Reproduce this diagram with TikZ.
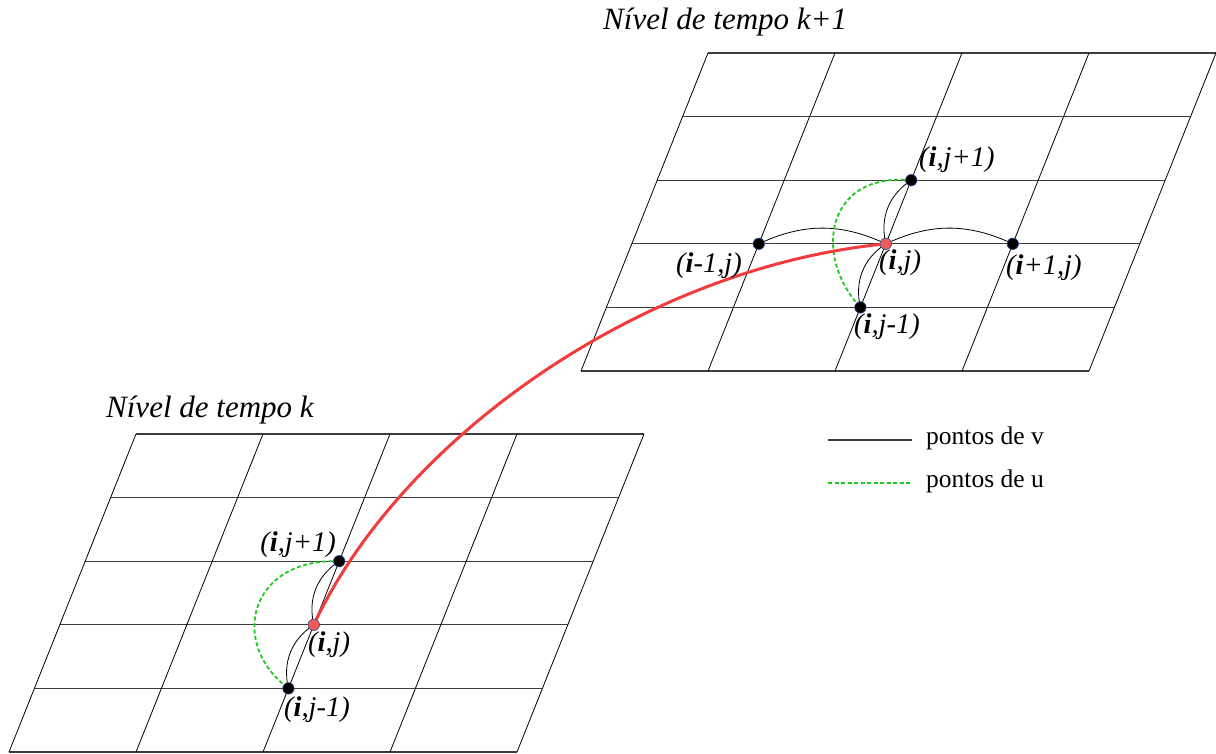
\documentclass[tikz,border=0pt]{standalone}
\usepackage{fontspec}
\setmainfont{Liberation Serif}
\usetikzlibrary{calc}
\definecolor{gridc}{RGB}{60,60,60}
\definecolor{redc}{RGB}{240,60,60}
\definecolor{redfill}{RGB}{240,90,90}
\definecolor{greenc}{RGB}{30,200,30}
\definecolor{dotedge}{RGB}{50,80,150}
\tikzset{
  gridline/.style={draw=gridc, line width=1.1pt},
  vline/.style={draw=black, line width=0.8pt},
  uline/.style={draw=greenc, line width=1.8pt, dash pattern=on 4pt off 2.5pt},
  redline/.style={draw=redc, line width=3pt},
  dotnode/.style={circle, fill=black, draw=dotedge, line width=0.6pt, inner sep=0pt, minimum size=11.5pt},
  reddot/.style={circle, fill=redfill, draw=dotedge, line width=0.6pt, inner sep=0pt, minimum size=11.5pt},
  lab/.style={font=\fontsize{28.5}{32}\selectfont\itshape, inner sep=0pt, anchor=west},
  title/.style={font=\fontsize{31}{36}\selectfont\itshape, inner sep=0pt, anchor=west},
  legtext/.style={font=\fontsize{25.5}{30}\selectfont, inner sep=0pt, anchor=west}
}
\begin{document}
\begin{tikzpicture}[x=1pt,y=-1pt]
\path[use as bounding box] (0,0) rectangle (1216,753);
% lower grid
\begin{scope}[shift={(9,752)}]
  \foreach \r in {0,...,5} \draw[gridline] (\r*25.4,-\r*63.6) -- ++(508,0);
  \foreach \c in {0,...,4} \draw[vline] (\c*127,0) -- ++(127,-318);
\end{scope}
% upper grid
\begin{scope}[shift={(581,371)}]
  \foreach \r in {0,...,5} \draw[gridline] (\r*25.4,-\r*63.6) -- ++(508,0);
  \foreach \c in {0,...,4} \draw[vline] (\c*127,0) -- ++(127,-318);
\end{scope}
% titles
\node[title] (t1) at (603,22) {Nível de tempo k+1};
\node[title] (t0) at (106,410) {Nível de tempo k};
% points, lower
\coordinate (Lc) at (313.8,624.8);
\coordinate (Lu) at (339.2,561.2);
\coordinate (Ld) at (288.4,688.4);
% points, upper
\coordinate (Uc) at (885.8,243.8);
\coordinate (Uu) at (911.2,180.2);
\coordinate (Ud) at (860.4,307.4);
\coordinate (Ul) at (758.8,243.8);
\coordinate (Ur) at (1012.8,243.8);
% black v curves
\draw[vline] (Ul) to[bend left=25] (Uc);
\draw[vline] (Uc) to[bend left=25] (Ur);
\draw[vline] (Uc) to[bend left=35] (Uu);
\draw[vline] (Ud) to[bend left=35] (Uc);
\draw[vline] (Lc) to[bend left=35] (Lu);
\draw[vline] (Ld) to[bend left=35] (Lc);
% green u curves
\draw[uline] (Uu) .. controls ($(Uu)+(-85,-8)$) and ($(Ud)+(-48,-52)$) .. (Ud);
\draw[uline] (Lu) .. controls ($(Lu)+(-90,-3)$) and ($(Ld)+(-60,-45)$) .. (Ld);
% red
\draw[redline] (Uc) .. controls (640,268) and (400,440) .. (Lc);
% dots
\node[dotnode] (nUu) at (Uu) {};
\node[dotnode] (nUd) at (Ud) {};
\node[dotnode] (nUl) at (Ul) {};
\node[dotnode] (nUr) at (Ur) {};
\node[reddot] (nUc) at (Uc) {};
\node[dotnode] (nLu) at (Lu) {};
\node[dotnode] (nLd) at (Ld) {};
\node[reddot] (nLc) at (Lc) {};
% labels upper
\node[lab] (lUu) at (919,160) {(\textbf{i},j+1)};
\node[lab] (lUl) at (676,266) {(\textbf{i}-1,j)};
\node[lab] (lUc) at (879,263) {(\textbf{i},j)};
\node[lab] (lUr) at (1006,268) {(\textbf{i}+1,j)};
\node[lab] (lUd) at (854,327) {(\textbf{i},j-1)};
% labels lower
\node[lab, anchor=east] (lLu) at (336,545) {(\textbf{i},j+1)};
\node[lab] (lLc) at (308,645) {(\textbf{i},j)};
\node[lab] (lLd) at (284,710) {(\textbf{i},j-1)};
% legend
\coordinate (lv1) at (828,440);
\coordinate (lv2) at (912,440);
\coordinate (lu1) at (828,483);
\coordinate (lu2) at (912,483);
\draw[draw=gridc, line width=1.1pt] (lv1) -- (lv2);
\draw[uline] (lu1) -- (lu2);
\node[legtext] (legv) at (926,438) {pontos de v};
\node[legtext] (legu) at (926,481) {pontos de u};
\end{tikzpicture}
\end{document}
